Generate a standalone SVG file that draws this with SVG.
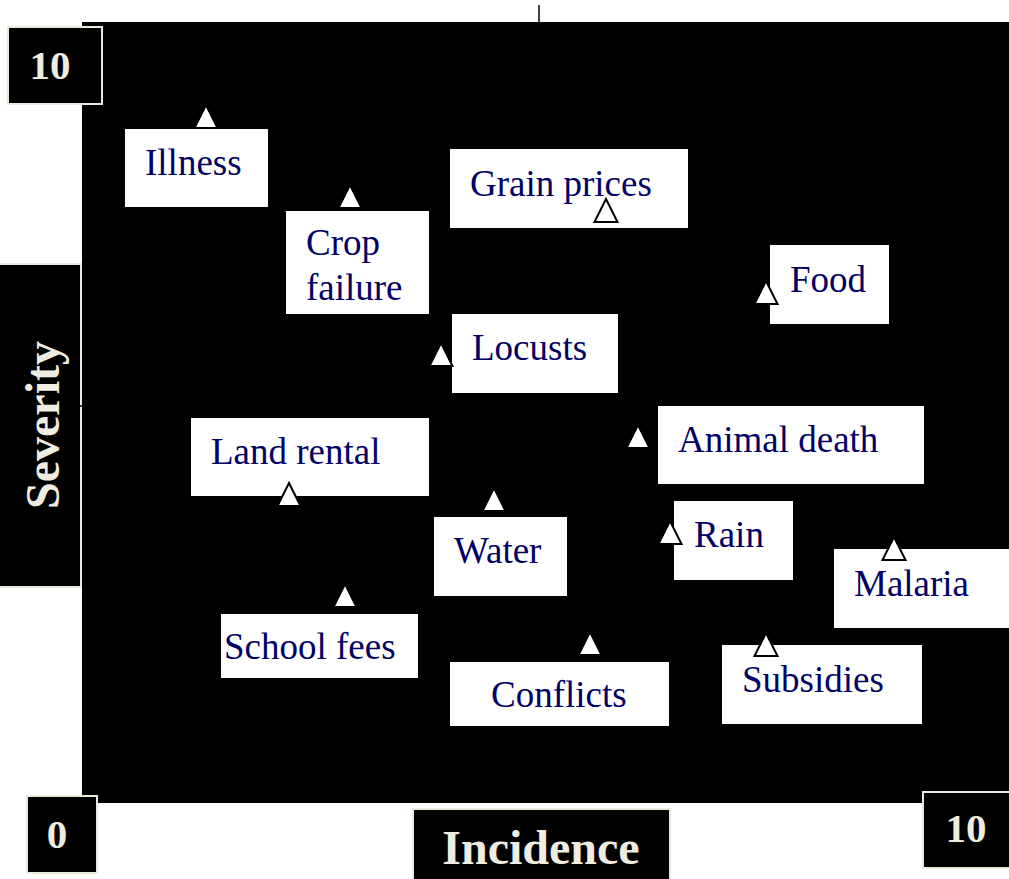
<svg xmlns="http://www.w3.org/2000/svg" width="1009" height="879" viewBox="0 0 1009 879">
<style>
.box{fill:#ffffff;stroke:none}
.lbl{font-family:"Liberation Serif","Times New Roman",serif;font-size:37px;fill:#000066}
.axbox{fill:#000000;stroke:#ece9dc;stroke-width:2}
.axtxt{font-family:"Liberation Serif","Times New Roman",serif;font-weight:bold;fill:#efece0}
.tri{fill:#ffffff;stroke:#000000;stroke-width:2;stroke-linejoin:miter}
</style>
<defs>
<path id="tri" class="tri" d="M0,0 L11.5,23 L-11.5,23 Z"/>
</defs>
<rect x="0" y="0" width="1009" height="879" fill="#ffffff"/>
<rect id="plot" x="82" y="22" width="927" height="781" fill="#000000"/>
<g id="axes">
<line x1="539" y1="5" x2="539" y2="22" stroke="#000000" stroke-width="1.5"/>
<g id="y-max"><rect class="axbox" x="8" y="27" width="94" height="77"/><text class="axtxt" x="50" y="79" font-size="41" text-anchor="middle">10</text></g>
<g id="severity"><rect class="axbox" x="-2" y="264" width="83" height="323"/><text class="axtxt" font-size="48" text-anchor="middle" transform="translate(59,425) rotate(-90)">Severity</text></g>
<line x1="80" y1="406" x2="84" y2="406" stroke="#000000" stroke-width="1.5"/>
<g id="origin"><rect class="axbox" x="27" y="796" width="70" height="77"/><text class="axtxt" x="57" y="848" font-size="41" text-anchor="middle">0</text></g>
<g id="incidence"><rect class="axbox" x="413" y="809" width="257" height="72"/><text class="axtxt" x="541" y="864" font-size="48" text-anchor="middle">Incidence</text></g>
<g id="x-max"><rect class="axbox" x="923" y="792" width="88" height="76"/><text class="axtxt" x="966" y="842" font-size="41" text-anchor="middle">10</text></g>
</g>
<g id="connectors"></g>
<g id="node-illness"><rect class="box" x="125" y="129" width="143" height="78"/><text class="lbl" x="145" y="175">Illness</text><use href="#tri" x="206" y="105"/></g>
<g id="node-grain-prices"><rect class="box" x="450" y="149" width="238" height="79"/><text class="lbl" x="470" y="196">Grain prices</text><use href="#tri" x="606" y="199"/></g>
<g id="node-crop-failure"><rect class="box" x="286" y="211" width="143" height="103"/><text class="lbl" x="306" y="255">Crop</text><text class="lbl" x="306" y="300">failure</text><use href="#tri" x="350" y="185"/></g>
<g id="node-food"><rect class="box" x="770" y="245" width="119" height="79"/><text class="lbl" x="790" y="292">Food</text><use href="#tri" x="766" y="281"/></g>
<g id="node-locusts"><rect class="box" x="452" y="314" width="166" height="79"/><text class="lbl" x="472" y="360">Locusts</text><use href="#tri" x="441" y="343"/></g>
<g id="node-animal-death"><rect class="box" x="658" y="406" width="266" height="78"/><text class="lbl" x="678" y="452">Animal death</text><use href="#tri" x="638" y="425"/></g>
<g id="node-land-rental"><rect class="box" x="191" y="418" width="238" height="78"/><text class="lbl" x="211" y="464">Land rental</text><use href="#tri" x="289" y="483"/></g>
<g id="node-water"><rect class="box" x="434" y="517" width="133" height="79"/><text class="lbl" x="454" y="563">Water</text><use href="#tri" x="494" y="488"/></g>
<g id="node-rain"><rect class="box" x="674" y="501" width="119" height="79"/><text class="lbl" x="694" y="547">Rain</text><use href="#tri" x="670" y="521"/></g>
<g id="node-malaria"><rect class="box" x="834" y="549" width="175" height="79"/><text class="lbl" x="854" y="596">Malaria</text><use href="#tri" x="894" y="537"/></g>
<g id="node-school-fees"><rect class="box" x="221" y="614" width="197" height="64"/><text class="lbl" x="224" y="659">School fees</text><use href="#tri" x="345" y="584"/></g>
<g id="node-conflicts"><rect class="box" x="450" y="662" width="219" height="64"/><text class="lbl" x="491" y="707">Conflicts</text><use href="#tri" x="590" y="632"/></g>
<g id="node-subsidies"><rect class="box" x="722" y="645" width="200" height="79"/><text class="lbl" x="742" y="692">Subsidies</text><use href="#tri" x="766" y="633"/></g>
</svg>
